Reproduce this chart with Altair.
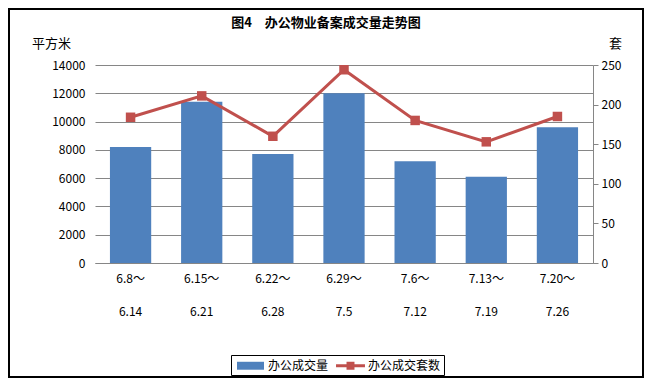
import altair as alt
import pandas as pd

weeks = ["6.8～|6.14", "6.15～|6.21", "6.22～|6.28", "6.29～|7.5",
         "7.6～|7.12", "7.13～|7.19", "7.20～|7.26"]
area = [8200, 11400, 7700, 12000, 7200, 6100, 9600]
units = [184, 211, 160, 244, 180, 153, 185]
series = ["办公成交量", "办公成交套数"]
colors = ["#4F81BD", "#C0504D"]
left_ticks = [0, 2000, 4000, 6000, 8000, 10000, 12000, 14000]
right_ticks = [0, 50, 100, 150, 200, 250]

FONT = "Noto Sans CJK SC"
GRID = "#868686"

df = pd.DataFrame({"week": weeks, "area": area, "units": units})

xenc = alt.X(
    "week:N", sort=weeks,
    scale=alt.Scale(paddingInner=0.42, paddingOuter=0.21),
    axis=alt.Axis(title=None, labelAngle=0, labelExpr="split(datum.label, '|')",
                  labelLineHeight=33, labelPadding=10, labelBaseline="top",
                  ticks=False, domainColor=GRID, labelFontSize=12, labelColor="black"),
)

bars = alt.Chart(df).mark_bar(color=colors[0]).encode(
    x=xenc,
    y=alt.Y("area:Q", scale=alt.Scale(domain=[0, 14000]),
            axis=alt.Axis(values=left_ticks, format="d", title="平方米", titleAngle=0,
                          titleX=-44, titleY=-22, titleAlign="center",
                          titleBaseline="middle", titleFontWeight="normal",
                          titleFontSize=13, grid=True, gridColor=GRID,
                          domain=False, ticks=False, labelPadding=10,
                          labelFontSize=12, labelColor="black")),
)

line = alt.Chart(df).mark_line(
    color=colors[1], strokeWidth=3,
    point=alt.OverlayMarkDef(shape="square", size=90, filled=True, color=colors[1], opacity=1),
).encode(
    x=xenc,
    y=alt.Y("units:Q", scale=alt.Scale(domain=[0, 250]),
            axis=alt.Axis(orient="right", values=right_ticks, format="d", title="套", titleAngle=0,
                          titleX=22, titleY=-22, titleAlign="center",
                          titleBaseline="middle", titleFontWeight="normal",
                          titleFontSize=13, grid=False, domain=True,
                          domainColor=GRID, ticks=True, tickSize=5, tickColor=GRID,
                          labelPadding=3, labelFontSize=12, labelColor="black")),
)

legend_df = pd.DataFrame({"series": series})
leg = dict(orient="none", legendX=136, legendY=290, direction="horizontal", title=None,
           strokeColor="black", padding=3, symbolSize=225, symbolOffset=9,
           labelFontSize=12, labelFont=FONT, columnPadding=5, labelOffset=10,
           symbolStrokeWidth=0, labelColor="black")
legend_layer = alt.Chart(legend_df).mark_point(filled=True, opacity=1).encode(
    color=alt.Color("series:N", scale=alt.Scale(domain=series, range=colors),
                    legend=alt.Legend(**leg)),
    shape=alt.Shape("series:N", scale=alt.Scale(
        domain=series,
        range=["M-1.8,-0.53H1.8V0.53H-1.8Z",
               "M-1.93,-0.2H1.93V0.2H-1.93Z M-0.53,-0.53H0.53V0.53H-0.53Z"]),
        legend=alt.Legend(**leg)),
).transform_filter("false")

border = alt.Chart(pd.DataFrame({"a": [0]})).mark_rect(
    fill=None, stroke="black", strokeWidth=2
).encode(x=alt.value(-86), x2=alt.value(548), y=alt.value(-56), y2=alt.value(312))

chart = alt.layer(bars, line, legend_layer, border).resolve_scale(y="independent").properties(
    width=498, height=198,
    autosize=alt.AutoSizeParams(type="none"),
    padding={"left": 87, "top": 57, "right": 51, "bottom": 115},
    title=alt.TitleParams("图4　办公物业备案成交量走势图", fontSize=13, fontWeight="bold",
                          font=FONT, anchor="middle", dx=-18, dy=26, color="black"),
).configure(font=FONT).configure_view(stroke=None).configure_axis(labelFont=FONT, titleFont=FONT)

chart.save("out.html", embed_options={"renderer": "svg", "actions": False})
